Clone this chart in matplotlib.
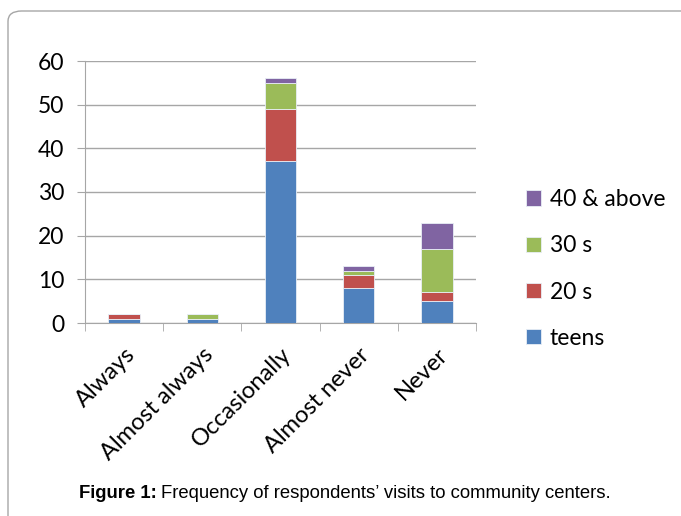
import numpy as np
import matplotlib.pyplot as plt
from matplotlib.patches import FancyBboxPatch

categories = ["Always", "Almost always", "Occasionally", "Almost never", "Never"]
teens = [1, 1, 37, 8, 5]
twenties = [1, 0, 12, 3, 2]
thirties = [0, 1, 6, 1, 10]
forties = [0, 0, 1, 1, 6]

series = [("teens", teens, "#4F81BD"),
          ("20 s", twenties, "#C0504D"),
          ("30 s", thirties, "#9BBB59"),
          ("40 & above", forties, "#8064A2")]

plt.rcParams['font.family'] = ['Lato', 'DejaVu Sans']

fig = plt.figure(figsize=(6.81, 5.16), dpi=100)

# rounded frame around the figure panel
frame = FancyBboxPatch((8 / 681, -0.2), 1.2, 1.2 - 11 / 516,
                       boxstyle="round,pad=0,rounding_size=0.02",
                       transform=fig.transFigure, facecolor="none",
                       edgecolor="#a6a6a6", linewidth=1.0)
fig.patches.append(frame)

ax = fig.add_axes([85 / 681, 1 - 323 / 516, (476 - 85) / 681, (323 - 61) / 516])
x = np.arange(len(categories))
bottom = np.zeros(len(categories))
handles = []
for name, vals, color in series:
    b = ax.bar(x, vals, width=0.4, bottom=bottom, color=color,
               edgecolor="#e8eef6", linewidth=0.6, label=name, zorder=3)
    handles.append(b)
    bottom += np.array(vals)

ax.set_xlim(-0.5, len(categories) - 0.5)
ax.set_ylim(0, 60)
ax.set_yticks(range(0, 61, 10))
ax.yaxis.grid(True, color="#a6a6a6", linewidth=1.0, zorder=0)
ax.set_axisbelow(True)
for s in ["top", "right"]:
    ax.spines[s].set_visible(False)
ax.spines["left"].set_color("#a6a6a6")
ax.spines["bottom"].set_color("#a6a6a6")

ax.set_xticks(x)
ax.set_xticklabels(categories, rotation=45, ha="right", rotation_mode="anchor",
                   fontsize=17)
ax.tick_params(axis="x", which="major", length=0, pad=15)
ax.set_xticks(np.arange(-0.5, len(categories), 1.0), minor=True)
ax.tick_params(axis="x", which="minor", length=6, color="#a6a6a6")
ax.tick_params(axis="y", labelsize=16.5, length=6, color="#a6a6a6", pad=9)

fig.legend(handles[::-1], [h.get_label() for h in handles[::-1]],
           loc="center left", bbox_to_anchor=(505 / 681, 1 - 269 / 516),
           frameon=False, fontsize=16.5, handlelength=0.65, handleheight=0.65,
           handletextpad=0.4, labelspacing=1.1)

# caption below the chart
cap_y = 1 - 494 / 516
fig.text(157 / 681, cap_y, "Figure 1:", fontsize=13.3, fontweight="bold",
         ha="right", va="center", family="Liberation Sans")
fig.text(161 / 681, cap_y, "Frequency of respondents\u2019 visits to community centers.",
         fontsize=13.3, ha="left", va="center", family="Liberation Sans")

fig.savefig("out.png", dpi=100)
